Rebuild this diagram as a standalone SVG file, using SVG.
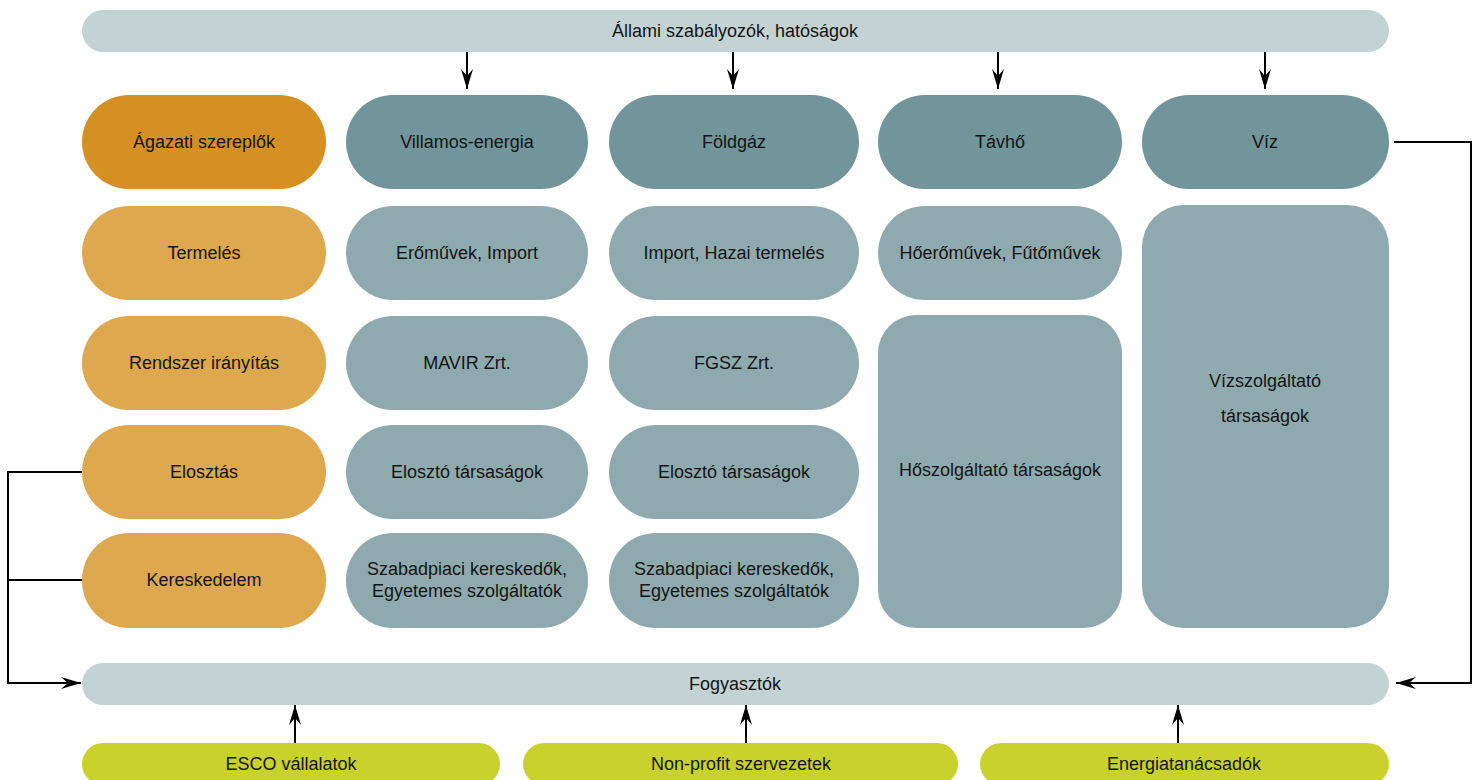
<svg xmlns="http://www.w3.org/2000/svg" width="1480" height="780" viewBox="0 0 1480 780">
  <defs>
    <style>
      text { font-family: "Liberation Sans", Arial, sans-serif; font-size: 18px; fill: #141414; text-anchor: middle; }
      .bar { fill: #c3d3d3; }
      .head { fill: #71959a; }
      .sub { fill: #8faaae; }
      .sector { fill: #d49022; }
      .role { fill: #dea84e; }
      .actor { fill: #c9d12d; }
      .link { fill: none; stroke: #000; stroke-width: 2; }
    </style>
    <marker id="arrow" markerUnits="userSpaceOnUse" markerWidth="22" markerHeight="14" refX="20" refY="7" orient="auto">
      <path d="M20,7 L0,1 L7,7 L0,13 Z" fill="#000"/>
    </marker>
  </defs>
  <rect width="1480" height="780" fill="#ffffff"/>

  <!-- regulators bar -->
  <g id="regulators">
    <rect class="bar" x="82" y="10" width="1307" height="42" rx="21"/>
    <text x="735" y="37">Állami szabályozók, hatóságok</text>
  </g>

  <!-- left column: sector roles -->
  <g id="sector-actors">
    <rect class="sector" x="82" y="95" width="244" height="94" rx="47"/>
    <text x="204" y="148">Ágazati szereplők</text>
  </g>
  <g id="role-production">
    <rect class="role" x="82" y="206" width="244" height="94" rx="47"/>
    <text x="204" y="259">Termelés</text>
  </g>
  <g id="role-control">
    <rect class="role" x="82" y="316" width="244" height="94" rx="47"/>
    <text x="204" y="369">Rendszer irányítás</text>
  </g>
  <g id="role-distribution">
    <rect class="role" x="82" y="425" width="244" height="94" rx="47"/>
    <text x="204" y="478">Elosztás</text>
  </g>
  <g id="role-trade">
    <rect class="role" x="82" y="533" width="244" height="95" rx="47"/>
    <text x="204" y="586">Kereskedelem</text>
  </g>

  <!-- electricity column -->
  <g id="electricity">
    <rect class="head" x="346" y="95" width="242" height="94" rx="47"/>
    <text x="467" y="148">Villamos-energia</text>
  </g>
  <g id="electricity-production">
    <rect class="sub" x="346" y="206" width="242" height="94" rx="47"/>
    <text x="467" y="259">Erőművek, Import</text>
  </g>
  <g id="electricity-control">
    <rect class="sub" x="346" y="316" width="242" height="94" rx="47"/>
    <text x="467" y="369">MAVIR Zrt.</text>
  </g>
  <g id="electricity-distribution">
    <rect class="sub" x="346" y="425" width="242" height="94" rx="47"/>
    <text x="467" y="478">Elosztó társaságok</text>
  </g>
  <g id="electricity-trade">
    <rect class="sub" x="346" y="533" width="242" height="95" rx="47"/>
    <text x="467" y="575">Szabadpiaci kereskedők,</text>
    <text x="467" y="597">Egyetemes szolgáltatók</text>
  </g>

  <!-- gas column -->
  <g id="gas">
    <rect class="head" x="609" y="95" width="250" height="94" rx="47"/>
    <text x="734" y="148">Földgáz</text>
  </g>
  <g id="gas-production">
    <rect class="sub" x="609" y="206" width="250" height="94" rx="47"/>
    <text x="734" y="259">Import, Hazai termelés</text>
  </g>
  <g id="gas-control">
    <rect class="sub" x="609" y="316" width="250" height="94" rx="47"/>
    <text x="734" y="369">FGSZ Zrt.</text>
  </g>
  <g id="gas-distribution">
    <rect class="sub" x="609" y="425" width="250" height="94" rx="47"/>
    <text x="734" y="478">Elosztó társaságok</text>
  </g>
  <g id="gas-trade">
    <rect class="sub" x="609" y="533" width="250" height="95" rx="47"/>
    <text x="734" y="575">Szabadpiaci kereskedők,</text>
    <text x="734" y="597">Egyetemes szolgáltatók</text>
  </g>

  <!-- district heating column -->
  <g id="heating">
    <rect class="head" x="878" y="95" width="244" height="94" rx="47"/>
    <text x="1000" y="148">Távhő</text>
  </g>
  <g id="heating-production">
    <rect class="sub" x="878" y="206" width="244" height="94" rx="47"/>
    <text x="1000" y="259">Hőerőművek, Fűtőművek</text>
  </g>
  <g id="heating-suppliers">
    <rect class="sub" x="878" y="315" width="244" height="313" rx="38"/>
    <text x="1000" y="476">Hőszolgáltató társaságok</text>
  </g>

  <!-- water column -->
  <g id="water">
    <rect class="head" x="1142" y="95" width="247" height="94" rx="47"/>
    <text x="1265" y="148">Víz</text>
  </g>
  <g id="water-suppliers">
    <rect class="sub" x="1142" y="205" width="247" height="423" rx="42"/>
    <text x="1265" y="387">Vízszolgáltató</text>
    <text x="1265" y="422">társaságok</text>
  </g>

  <!-- consumers bar -->
  <g id="consumers">
    <rect class="bar" x="82" y="663" width="1307" height="42" rx="21"/>
    <text x="735" y="690">Fogyasztók</text>
  </g>

  <!-- supporting actors -->
  <g id="esco">
    <rect class="actor" x="82" y="743" width="418" height="42" rx="21"/>
    <text x="291" y="770">ESCO vállalatok</text>
  </g>
  <g id="nonprofit">
    <rect class="actor" x="523" y="743" width="435" height="42" rx="21"/>
    <text x="741" y="770">Non-profit szervezetek</text>
  </g>
  <g id="advisors">
    <rect class="actor" x="980" y="743" width="409" height="42" rx="21"/>
    <text x="1184" y="770">Energiatanácsadók</text>
  </g>

  <!-- connectors -->
  <g id="connectors">
    <line class="link" x1="467" y1="52" x2="467" y2="89" marker-end="url(#arrow)"/>
    <line class="link" x1="733" y1="52" x2="733" y2="89" marker-end="url(#arrow)"/>
    <line class="link" x1="998" y1="52" x2="998" y2="89" marker-end="url(#arrow)"/>
    <line class="link" x1="1265" y1="52" x2="1265" y2="89" marker-end="url(#arrow)"/>

    <polyline class="link" points="82,472 8,472 8,683 81,683" marker-end="url(#arrow)"/>
    <line class="link" x1="82" y1="580" x2="8" y2="580"/>

    <polyline class="link" points="1394,142 1471,142 1471,683 1396,683" marker-end="url(#arrow)"/>

    <line class="link" x1="295" y1="743" x2="295" y2="705" marker-end="url(#arrow)"/>
    <line class="link" x1="746" y1="743" x2="746" y2="705" marker-end="url(#arrow)"/>
    <line class="link" x1="1178" y1="743" x2="1178" y2="705" marker-end="url(#arrow)"/>
  </g>
</svg>
